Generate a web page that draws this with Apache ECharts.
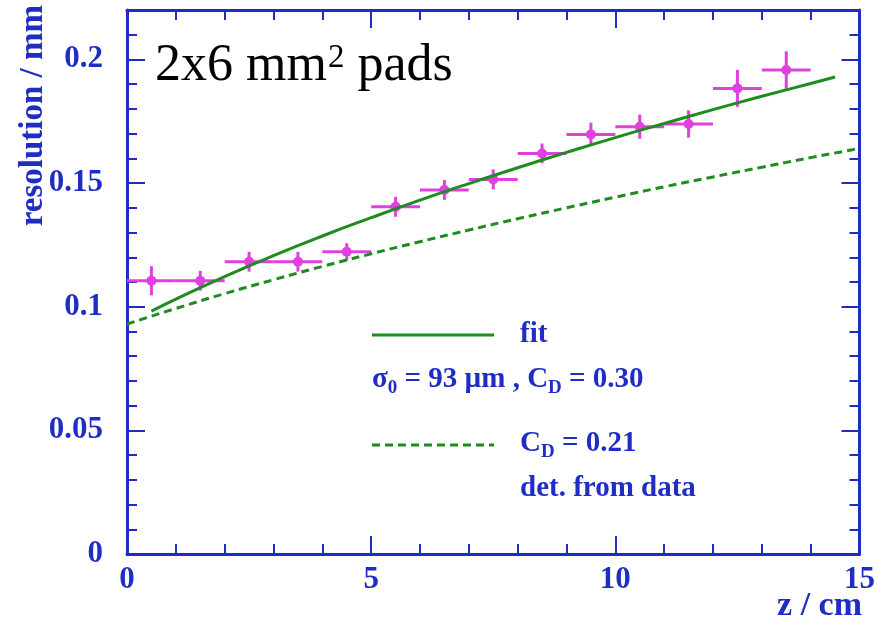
<!DOCTYPE html>
<html>
<head>
<meta charset="utf-8">
<script src="https://cdn.jsdelivr.net/npm/echarts@6/dist/echarts.min.js"></script>
<style>
  html, body { margin: 0; padding: 0; background: #fff; }
  #main { width: 878px; height: 633px; }
</style>
</head>
<body>
<div id="main"></div>
<script>
// measured points (bin centre, resolution, error)
const binCentres = [0.5, 1.5, 2.5, 3.5, 4.5, 5.5, 6.5, 7.5, 8.5, 9.5, 10.5, 11.5, 12.5, 13.5];
const resolution = [0.1105, 0.1105, 0.1182, 0.1182, 0.1222, 0.1404, 0.1472, 0.1515, 0.1620, 0.1697, 0.1728, 0.1739, 0.1883, 0.1957];
const resolutionErr = [0.0059, 0.0040, 0.0040, 0.0040, 0.0035, 0.0040, 0.0040, 0.0040, 0.0040, 0.0047, 0.0049, 0.0055, 0.0075, 0.0076];
const binHalfWidth = 0.5;

// fit curve (sigma0 = 93 um, CD = 0.30)
const fitZ = [0.5, 1, 2, 3, 4, 5, 6, 7, 8, 9, 10, 11, 12, 13, 14, 14.5];
const fitRes = [0.0982, 0.1031, 0.1122, 0.1207, 0.1286, 0.1360, 0.1431, 0.1498, 0.1562, 0.1624, 0.1684, 0.1741, 0.1797, 0.1851, 0.1903, 0.1929];

// CD = 0.21 from data
const cdZ = [0, 1, 2, 3, 4, 5, 6, 7, 8, 9, 10, 11, 12, 13, 14, 15];
const cdRes = [0.0930, 0.0993, 0.1053, 0.1109, 0.1163, 0.1214, 0.1263, 0.1310, 0.1356, 0.1400, 0.1443, 0.1485, 0.1525, 0.1564, 0.1603, 0.1640];

const blue = '#1f2dc4';
const green = '#1e8c1e';
const magenta = '#e040e0';
const serif = '"Liberation Serif", "DejaVu Serif", serif';

const chart = echarts.init(document.getElementById('main'));

function yAx(pos, interval, len, withLabels, withLine) {
  return {
    type: 'value', position: pos, min: 0, max: 0.22, interval: interval,
    axisLine: { show: withLine, onZero: false, lineStyle: { color: blue, width: 3 } },
    axisTick: { show: true, inside: true, length: len, lineStyle: { color: blue, width: 2 } },
    axisLabel: {
      show: withLabels, showMaxLabel: false, margin: 24,
      color: blue, fontFamily: serif, fontWeight: 'bold', fontSize: 31,
      formatter: v => (Math.round(v * 100) / 100).toString()
    },
    splitLine: { show: false }
  };
}

function xAx(pos, withLabels) {
  return {
    type: 'value', position: pos, min: 0, max: 15, interval: 5,
    axisLine: { show: true, onZero: false, lineStyle: { color: blue, width: 3 } },
    axisTick: { show: true, inside: true, length: 18, lineStyle: { color: blue, width: 2 } },
    minorTick: { show: true, splitNumber: 5, length: 10, lineStyle: { color: blue, width: 2 } },
    axisLabel: {
      show: withLabels, margin: 10,
      color: blue, fontFamily: serif, fontWeight: 'bold', fontSize: 31
    },
    splitLine: { show: false }
  };
}

const pointData = binCentres.map((z, i) => [z, resolution[i], resolutionErr[i]]);

const legendRich = {
  a: { fill: blue, fontFamily: serif, fontWeight: 'bold', fontSize: 29, lineHeight: 36, verticalAlign: 'top' },
  s: { fill: blue, fontFamily: serif, fontWeight: 'bold', fontSize: 19, lineHeight: 36, padding: [14, 0, 0, 0], verticalAlign: 'top' }
};

chart.setOption({
  backgroundColor: '#fff',
  animation: false,
  grid: { left: 127, right: 15, top: 10, bottom: 79, containLabel: false },
  xAxis: [xAx('bottom', true), xAx('top', false)],
  yAxis: [
    yAx('left', 0.05, 18, true, true),
    yAx('left', 0.01, 10, false, false),
    yAx('right', 0.05, 18, false, true),
    yAx('right', 0.01, 10, false, false)
  ],
  series: [
    {
      name: 'CD = 0.21', type: 'line', smooth: true, showSymbol: false,
      data: cdZ.map((z, i) => [z, cdRes[i]]),
      lineStyle: { color: green, width: 3, type: [8, 5] }
    },
    {
      name: 'fit', type: 'line', smooth: true, showSymbol: false,
      data: fitZ.map((z, i) => [z, fitRes[i]]),
      lineStyle: { color: green, width: 3 }
    },
    {
      name: 'data', type: 'custom', data: pointData,
      renderItem: function (params, api) {
        const z = api.value(0), r = api.value(1), e = api.value(2);
        const left = api.coord([z - binHalfWidth, r]);
        const right = api.coord([z + binHalfWidth, r]);
        const top = api.coord([z, r + e]);
        const bottom = api.coord([z, r - e]);
        const c = api.coord([z, r]);
        const st = { stroke: magenta, lineWidth: 3 };
        return {
          type: 'group',
          children: [
            { type: 'line', shape: { x1: left[0], y1: left[1], x2: right[0], y2: right[1] }, style: st },
            { type: 'line', shape: { x1: top[0], y1: top[1], x2: bottom[0], y2: bottom[1] }, style: st },
            { type: 'circle', shape: { cx: c[0], cy: c[1], r: 5 }, style: { fill: magenta } }
          ]
        };
      }
    }
  ],
  graphic: [
    {
      type: 'text', left: 155, top: 40,
      style: {
        text: '{t|2x6 mm}{p|2}{t| pads}',
        rich: {
          t: { fill: '#000', fontFamily: serif, fontSize: 52, lineHeight: 60, verticalAlign: 'top' },
          p: { fill: '#000', fontFamily: serif, fontSize: 33, lineHeight: 60, padding: [2, 0, 0, 1], verticalAlign: 'top' }
        }
      }
    },
    {
      type: 'text', x: 17, y: 5, rotation: Math.PI / 2, origin: [0, 0],
      style: {
        text: 'resolution / mm', fill: blue, align: 'right', verticalAlign: 'top',
        font: 'bold 33px ' + serif
      }
    },
    {
      type: 'text', right: 16, top: 589,
      style: { text: 'z / cm', fill: blue, font: 'bold 34px ' + serif }
    },
    { type: 'line', shape: { x1: 372, y1: 335, x2: 494, y2: 335 }, style: { stroke: green, lineWidth: 3 } },
    { type: 'line', shape: { x1: 372, y1: 445, x2: 494, y2: 445 }, style: { stroke: green, lineWidth: 3, lineDash: [8, 5] } },
    {
      type: 'text', x: 520, y: 320,
      style: { text: 'fit', fill: blue, font: 'bold 29px ' + serif }
    },
    {
      type: 'text', x: 372, y: 365,
      style: { text: '{a|σ}{s|0}{a| = 93 µm , C}{s|D}{a| = 0.30}', rich: legendRich }
    },
    {
      type: 'text', x: 520, y: 429,
      style: { text: '{a|C}{s|D}{a| = 0.21}', rich: legendRich }
    },
    {
      type: 'text', x: 520, y: 474,
      style: { text: 'det. from data', fill: blue, font: 'bold 29px ' + serif }
    }
  ]
});
</script>
</body>
</html>
